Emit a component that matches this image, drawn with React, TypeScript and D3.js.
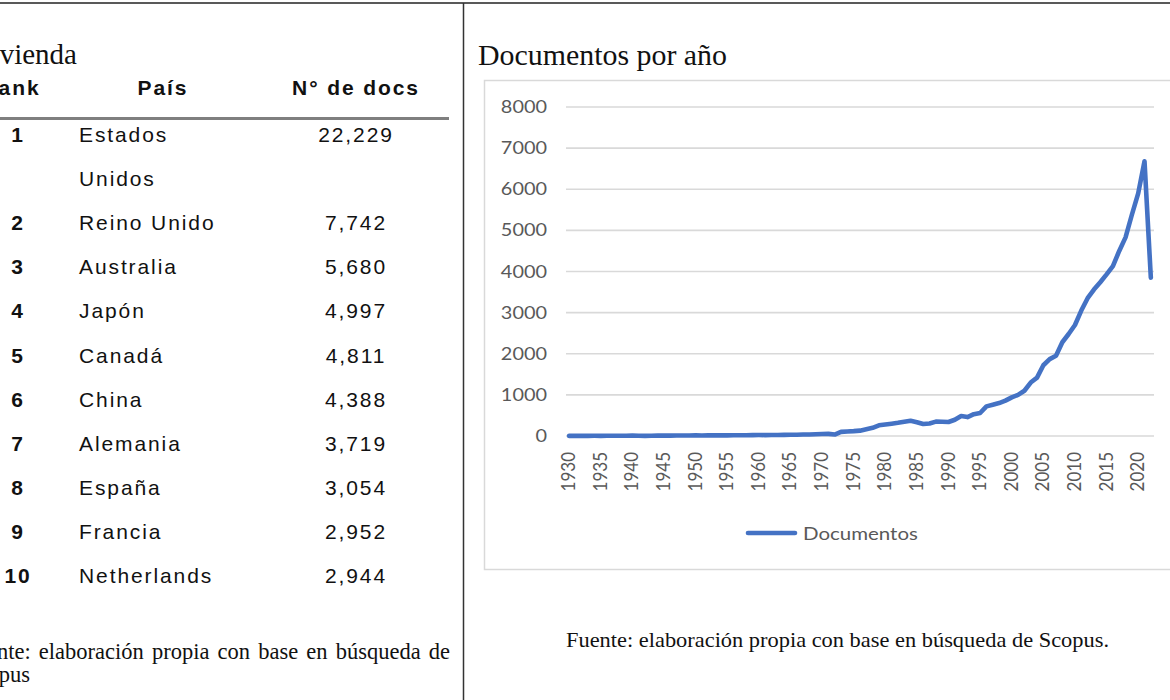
import React from "react";
import * as d3 from "d3";

const years: number[] = d3.range(1930, 2023);
const documentos: number[] = [
  3, 2, 4, 3, 5, 4, 6, 5, 7, 6,
  8, 5, 4, 6, 9, 8, 10, 12, 11, 13,
  15, 12, 14, 16, 18, 15, 17, 20, 19, 21,
  23, 22, 26, 24, 28, 30, 32, 35, 38, 42,
  48, 52, 35, 100, 110, 118, 130, 165, 200, 260,
  280, 300, 320, 345, 370, 335, 290, 305, 350, 345,
  340, 395, 485, 460, 530, 560, 720, 760, 800, 860,
  940, 1000, 1100, 1300, 1420, 1720, 1870, 1950, 2280, 2480,
  2700, 3050, 3350, 3560, 3740, 3930, 4130, 4500, 4830, 5380,
  5900, 6680, 3850,
];
const yTicks: number[] = [0, 1000, 2000, 3000, 4000, 5000, 6000, 7000, 8000];
const seriesName = "Documentos";
const chartTitle = "Documentos por año";
const sourceNote = "Fuente: elaboración propia con base en búsqueda de Scopus.";
const leftNoteWords: string[] = ["Fuente:", "elaboración", "propia", "con", "base", "en", "búsqueda", "de"];
const leftNoteLine2 = "Scopus";

const ranks: number[] = [1, 2, 3, 4, 5, 6, 7, 8, 9, 10];
const countries: string[] = [
  "Estados Unidos", "Reino Unido", "Australia", "Japón", "Canadá",
  "China", "Alemania", "España", "Francia", "Netherlands",
];
const docs: string[] = [
  "22,229", "7,742", "5,680", "4,997", "4,811",
  "4,388", "3,719", "3,054", "2,952", "2,944",
];
const tableHeaders: string[] = ["Rank", "País", "N° de docs"];
const tableTitle = "Vivienda";

const SANS = "'Liberation Sans', Arial, sans-serif";
const SERIF = "'Liberation Serif', 'Times New Roman', serif";
const CHART_FONT = "Lato, 'Open Sans', sans-serif";
const NOTE_SIZE = 22.5;

function measure(words: string[], font: string): number[] {
  const c = document.createElement("canvas");
  const ctx = c.getContext("2d");
  if (!ctx) return words.map((w) => w.length * 10);
  ctx.font = font;
  return words.map((w) => ctx.measureText(w).width);
}

export default function App() {
  const W = 1170, H = 700;
  const plotL = 566, plotR = 1154, plotT = 107, plotB = 436;
  const x = d3.scaleBand<number>().domain(years).range([plotL, plotR]);
  const cx = (yr: number) => (x(yr) as number) + x.bandwidth() / 2;
  const y = d3.scaleLinear().domain([0, 8000]).range([plotB, plotT]);
  const line = d3.line<number>()
    .x((_, i) => cx(years[i]))
    .y((v) => y(v));
  const labelYears = years.filter((yr) => (yr - 1930) % 5 === 0);
  const sx = 1.17;

  const rows: { rank: number; lines: string[]; doc: string; base: number }[] = [];
  let base = 142;
  ranks.forEach((r, i) => {
    const name = countries[i];
    const lines = name.length > 12 ? name.split(" ") : [name];
    rows.push({ rank: r, lines, doc: docs[i], base });
    base += 44.1 * lines.length;
  });

  // justified footnote line (the left of the column is cut off by the page crop)
  const font = `${NOTE_SIZE}px 'Liberation Serif'`;
  const widths = React.useMemo(() => measure(leftNoteWords, font), [font]);
  const fueW = React.useMemo(() => measure(["Fue"], font)[0], [font]);
  const lineStart = -3 - fueW;
  const lineEnd = 450;
  const totalW = widths.reduce((a, b) => a + b, 0);
  const gap = (lineEnd - lineStart - totalW) / (leftNoteWords.length - 1);
  const wordStarts: number[] = [];
  let acc = lineStart;
  widths.forEach((w) => { wordStarts.push(acc); acc += w + gap; });

  return (
    <svg width={W} height={H} viewBox={`0 0 ${W} ${H}`}
      style={{ position: "absolute", left: 0, top: 0, background: "#fff" }}>
      <rect x={0} y={0} width={W} height={H} fill="#fff" />
      <line x1={0} x2={W} y1={3} y2={3} stroke="#222" strokeWidth={1.6} />
      <line x1={463.5} x2={463.5} y1={3} y2={H} stroke="#333" strokeWidth={1.5} />

      {/* ===== Left table ===== */}
      <text x={77} y={64} textAnchor="end" fontFamily={SERIF} fontSize={29} fill="#111">{tableTitle}</text>
      <g fontFamily={SANS} fontSize={21} fontWeight="bold" fill="#111" letterSpacing={1.9}>
        <text x={11} y={95} textAnchor="middle">{tableHeaders[0]}</text>
        <text x={163} y={95} textAnchor="middle">{tableHeaders[1]}</text>
        <text x={356} y={95} textAnchor="middle">{tableHeaders[2]}</text>
      </g>
      <line x1={0} x2={449} y1={118.5} y2={118.5} stroke="#7f7f7f" strokeWidth={3} />
      <g fontFamily={SANS} fontSize={21} fill="#111" letterSpacing={1.9}>
        {rows.map((r) => (
          <g key={r.rank}>
            <text x={18} y={r.base} textAnchor="middle" fontWeight="bold">{r.rank}</text>
            {r.lines.map((ln, j) => (
              <text key={j} x={79} y={r.base + j * 44}>{ln}</text>
            ))}
            <text x={356} y={r.base} textAnchor="middle">{r.doc}</text>
          </g>
        ))}
      </g>
      <g fontFamily={SERIF} fontSize={NOTE_SIZE} fill="#111">
        <text y={659}>
          {leftNoteWords.map((w, i) => (
            <tspan key={i} x={wordStarts[i]}>{w}</tspan>
          ))}
        </text>
        <text x={30} y={682} textAnchor="end">{leftNoteLine2}</text>
      </g>

      {/* ===== Right chart ===== */}
      <text x={478} y={65} fontFamily={SERIF} fontSize={29} fill="#111" textLength={249} lengthAdjust="spacingAndGlyphs">{chartTitle}</text>
      <rect x={484.5} y={80.5} width={720} height={489} fill="#fff" stroke="#d9d9d9" strokeWidth={1.5} />

      {yTicks.map((t) => (
        <line key={t} x1={plotL} x2={plotR} y1={y(t)} y2={y(t)} stroke="#d9d9d9" strokeWidth={1.6} />
      ))}
      <g fontFamily={CHART_FONT} fontSize={17} fill="#595959">
        {yTicks.map((t) => (
          <text key={t} transform={`translate(547,${y(t) + 6}) scale(${sx},1)`} textAnchor="end">{t}</text>
        ))}
        {labelYears.map((yr) => (
          <text key={yr} transform={`translate(${cx(yr) + 6},452) scale(${sx},1) rotate(-90)`} textAnchor="end">{yr}</text>
        ))}
      </g>

      <path d={line(documentos) || ""} fill="none" stroke="#4472c4" strokeWidth={4.6}
        strokeLinejoin="round" strokeLinecap="round" />

      <line x1={748} x2={795} y1={533} y2={533} stroke="#4472c4" strokeWidth={4.6} strokeLinecap="round" />
      <text transform={`translate(803,540) scale(${sx},1)`} fontFamily={CHART_FONT} fontSize={17.5} fill="#595959">{seriesName}</text>

      <text x={566} y={647} fontFamily={SERIF} fontSize={21} fill="#111" textLength={543} lengthAdjust="spacingAndGlyphs">{sourceNote}</text>
    </svg>
  );
}
